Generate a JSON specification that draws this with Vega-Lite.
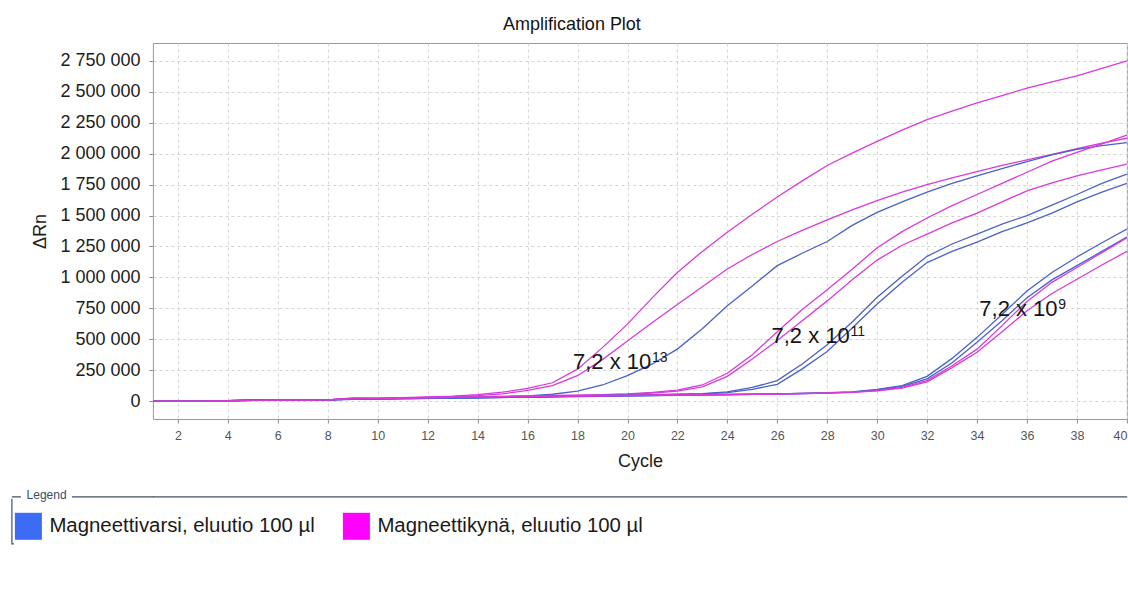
{
  "$schema": "https://vega.github.io/schema/vega-lite/v6.json",
  "background": "#ffffff",
  "padding": {"left": 9.9, "top": 15, "right": 0, "bottom": 0},
  "spacing": 23.5,
  "resolve": {"scale": {"color": "independent"}, "legend": {"color": "independent"}},
  "config": {
    "font": "Liberation Sans",
    "locale": {"number": {"decimal": ",", "thousands": " ", "grouping": [3], "currency": ["", " €"]}},
    "axis": {"labelOverlap": false}
  },
  "datasets": {
    "wells": [
      {"well": "A", "method": "Magneettikynä, eluutio 100 µl"},
      {"well": "B", "method": "Magneettikynä, eluutio 100 µl"},
      {"well": "C", "method": "Magneettivarsi, eluutio 100 µl"},
      {"well": "D", "method": "Magneettikynä, eluutio 100 µl"},
      {"well": "E", "method": "Magneettikynä, eluutio 100 µl"},
      {"well": "F", "method": "Magneettivarsi, eluutio 100 µl"},
      {"well": "G", "method": "Magneettivarsi, eluutio 100 µl"},
      {"well": "H", "method": "Magneettivarsi, eluutio 100 µl"},
      {"well": "I", "method": "Magneettivarsi, eluutio 100 µl"},
      {"well": "J", "method": "Magneettikynä, eluutio 100 µl"},
      {"well": "K", "method": "Magneettikynä, eluutio 100 µl"}
    ],
    "labels": [
      {"cycle": 17.82, "dRn": 259000, "base": "7,2 x 10", "exp": "13"},
      {"cycle": 25.77, "dRn": 473000, "base": "7,2 x 10", "exp": "11"},
      {"cycle": 34.09, "dRn": 688000, "base": "7,2 x 10", "exp": "9"}
    ],
    "curves": [
      {"well":"A","cycle":1,"dRn":0},{"well":"A","cycle":2,"dRn":0},{"well":"A","cycle":3,"dRn":0},{"well":"A","cycle":4,"dRn":2000},{"well":"A","cycle":5,"dRn":6000},{"well":"A","cycle":6,"dRn":8000},{"well":"A","cycle":7,"dRn":7000},{"well":"A","cycle":8,"dRn":9000},{"well":"A","cycle":9,"dRn":26000},{"well":"A","cycle":10,"dRn":24000},
      {"well":"A","cycle":11,"dRn":27000},{"well":"A","cycle":12,"dRn":33000},{"well":"A","cycle":13,"dRn":40000},{"well":"A","cycle":14,"dRn":52000},{"well":"A","cycle":15,"dRn":72000},{"well":"A","cycle":16,"dRn":102000},{"well":"A","cycle":17,"dRn":148000},{"well":"A","cycle":18,"dRn":258000},{"well":"A","cycle":19,"dRn":432000},{"well":"A","cycle":20,"dRn":622000},
      {"well":"A","cycle":21,"dRn":836000},{"well":"A","cycle":22,"dRn":1040000},{"well":"A","cycle":23,"dRn":1210000},{"well":"A","cycle":24,"dRn":1365000},{"well":"A","cycle":25,"dRn":1510000},{"well":"A","cycle":26,"dRn":1650000},{"well":"A","cycle":27,"dRn":1780000},{"well":"A","cycle":28,"dRn":1905000},{"well":"A","cycle":29,"dRn":2005000},{"well":"A","cycle":30,"dRn":2100000},
      {"well":"A","cycle":31,"dRn":2190000},{"well":"A","cycle":32,"dRn":2275000},{"well":"A","cycle":33,"dRn":2345000},{"well":"A","cycle":34,"dRn":2410000},{"well":"A","cycle":35,"dRn":2470000},{"well":"A","cycle":36,"dRn":2530000},{"well":"A","cycle":37,"dRn":2580000},{"well":"A","cycle":38,"dRn":2630000},{"well":"A","cycle":39,"dRn":2690000},{"well":"A","cycle":40,"dRn":2750000},

      {"well":"B","cycle":1,"dRn":0},{"well":"B","cycle":2,"dRn":0},{"well":"B","cycle":3,"dRn":0},{"well":"B","cycle":4,"dRn":2000},{"well":"B","cycle":5,"dRn":5000},{"well":"B","cycle":6,"dRn":8000},{"well":"B","cycle":7,"dRn":8000},{"well":"B","cycle":8,"dRn":10000},{"well":"B","cycle":9,"dRn":22000},{"well":"B","cycle":10,"dRn":22000},
      {"well":"B","cycle":11,"dRn":25000},{"well":"B","cycle":12,"dRn":30000},{"well":"B","cycle":13,"dRn":36000},{"well":"B","cycle":14,"dRn":44000},{"well":"B","cycle":15,"dRn":58000},{"well":"B","cycle":16,"dRn":86000},{"well":"B","cycle":17,"dRn":124000},{"well":"B","cycle":18,"dRn":205000},{"well":"B","cycle":19,"dRn":335000},{"well":"B","cycle":20,"dRn":485000},
      {"well":"B","cycle":21,"dRn":635000},{"well":"B","cycle":22,"dRn":780000},{"well":"B","cycle":23,"dRn":925000},{"well":"B","cycle":24,"dRn":1068000},{"well":"B","cycle":25,"dRn":1185000},{"well":"B","cycle":26,"dRn":1290000},{"well":"B","cycle":27,"dRn":1380000},{"well":"B","cycle":28,"dRn":1465000},{"well":"B","cycle":29,"dRn":1545000},{"well":"B","cycle":30,"dRn":1620000},
      {"well":"B","cycle":31,"dRn":1690000},{"well":"B","cycle":32,"dRn":1750000},{"well":"B","cycle":33,"dRn":1805000},{"well":"B","cycle":34,"dRn":1855000},{"well":"B","cycle":35,"dRn":1905000},{"well":"B","cycle":36,"dRn":1950000},{"well":"B","cycle":37,"dRn":1995000},{"well":"B","cycle":38,"dRn":2040000},{"well":"B","cycle":39,"dRn":2085000},{"well":"B","cycle":40,"dRn":2125000},

      {"well":"C","cycle":1,"dRn":0},{"well":"C","cycle":2,"dRn":0},{"well":"C","cycle":3,"dRn":0},{"well":"C","cycle":4,"dRn":4000},{"well":"C","cycle":5,"dRn":8000},{"well":"C","cycle":6,"dRn":9000},{"well":"C","cycle":7,"dRn":9000},{"well":"C","cycle":8,"dRn":10000},{"well":"C","cycle":9,"dRn":17000},{"well":"C","cycle":10,"dRn":19000},
      {"well":"C","cycle":11,"dRn":22000},{"well":"C","cycle":12,"dRn":25000},{"well":"C","cycle":13,"dRn":28000},{"well":"C","cycle":14,"dRn":32000},{"well":"C","cycle":15,"dRn":36000},{"well":"C","cycle":16,"dRn":42000},{"well":"C","cycle":17,"dRn":55000},{"well":"C","cycle":18,"dRn":80000},{"well":"C","cycle":19,"dRn":130000},{"well":"C","cycle":20,"dRn":205000},
      {"well":"C","cycle":21,"dRn":300000},{"well":"C","cycle":22,"dRn":420000},{"well":"C","cycle":23,"dRn":585000},{"well":"C","cycle":24,"dRn":770000},{"well":"C","cycle":25,"dRn":930000},{"well":"C","cycle":26,"dRn":1095000},{"well":"C","cycle":27,"dRn":1195000},{"well":"C","cycle":28,"dRn":1290000},{"well":"C","cycle":29,"dRn":1420000},{"well":"C","cycle":30,"dRn":1525000},
      {"well":"C","cycle":31,"dRn":1610000},{"well":"C","cycle":32,"dRn":1690000},{"well":"C","cycle":33,"dRn":1760000},{"well":"C","cycle":34,"dRn":1820000},{"well":"C","cycle":35,"dRn":1880000},{"well":"C","cycle":36,"dRn":1935000},{"well":"C","cycle":37,"dRn":1990000},{"well":"C","cycle":38,"dRn":2035000},{"well":"C","cycle":39,"dRn":2065000},{"well":"C","cycle":40,"dRn":2090000},

      {"well":"D","cycle":1,"dRn":0},{"well":"D","cycle":2,"dRn":0},{"well":"D","cycle":3,"dRn":0},{"well":"D","cycle":4,"dRn":2000},{"well":"D","cycle":5,"dRn":6000},{"well":"D","cycle":6,"dRn":8000},{"well":"D","cycle":7,"dRn":8000},{"well":"D","cycle":8,"dRn":10000},{"well":"D","cycle":9,"dRn":22000},{"well":"D","cycle":10,"dRn":22000},
      {"well":"D","cycle":11,"dRn":24000},{"well":"D","cycle":12,"dRn":29000},{"well":"D","cycle":13,"dRn":32000},{"well":"D","cycle":14,"dRn":35000},{"well":"D","cycle":15,"dRn":38000},{"well":"D","cycle":16,"dRn":42000},{"well":"D","cycle":17,"dRn":45000},{"well":"D","cycle":18,"dRn":48000},{"well":"D","cycle":19,"dRn":52000},{"well":"D","cycle":20,"dRn":58000},
      {"well":"D","cycle":21,"dRn":70000},{"well":"D","cycle":22,"dRn":88000},{"well":"D","cycle":23,"dRn":130000},{"well":"D","cycle":24,"dRn":225000},{"well":"D","cycle":25,"dRn":375000},{"well":"D","cycle":26,"dRn":560000},{"well":"D","cycle":27,"dRn":740000},{"well":"D","cycle":28,"dRn":900000},{"well":"D","cycle":29,"dRn":1065000},{"well":"D","cycle":30,"dRn":1240000},
      {"well":"D","cycle":31,"dRn":1370000},{"well":"D","cycle":32,"dRn":1480000},{"well":"D","cycle":33,"dRn":1580000},{"well":"D","cycle":34,"dRn":1670000},{"well":"D","cycle":35,"dRn":1760000},{"well":"D","cycle":36,"dRn":1850000},{"well":"D","cycle":37,"dRn":1940000},{"well":"D","cycle":38,"dRn":2010000},{"well":"D","cycle":39,"dRn":2080000},{"well":"D","cycle":40,"dRn":2150000},

      {"well":"E","cycle":1,"dRn":0},{"well":"E","cycle":2,"dRn":0},{"well":"E","cycle":3,"dRn":0},{"well":"E","cycle":4,"dRn":2000},{"well":"E","cycle":5,"dRn":5000},{"well":"E","cycle":6,"dRn":7000},{"well":"E","cycle":7,"dRn":8000},{"well":"E","cycle":8,"dRn":10000},{"well":"E","cycle":9,"dRn":20000},{"well":"E","cycle":10,"dRn":20000},
      {"well":"E","cycle":11,"dRn":22000},{"well":"E","cycle":12,"dRn":27000},{"well":"E","cycle":13,"dRn":30000},{"well":"E","cycle":14,"dRn":32000},{"well":"E","cycle":15,"dRn":35000},{"well":"E","cycle":16,"dRn":38000},{"well":"E","cycle":17,"dRn":42000},{"well":"E","cycle":18,"dRn":45000},{"well":"E","cycle":19,"dRn":50000},{"well":"E","cycle":20,"dRn":55000},
      {"well":"E","cycle":21,"dRn":65000},{"well":"E","cycle":22,"dRn":80000},{"well":"E","cycle":23,"dRn":115000},{"well":"E","cycle":24,"dRn":200000},{"well":"E","cycle":25,"dRn":340000},{"well":"E","cycle":26,"dRn":490000},{"well":"E","cycle":27,"dRn":650000},{"well":"E","cycle":28,"dRn":810000},{"well":"E","cycle":29,"dRn":980000},{"well":"E","cycle":30,"dRn":1140000},
      {"well":"E","cycle":31,"dRn":1260000},{"well":"E","cycle":32,"dRn":1350000},{"well":"E","cycle":33,"dRn":1440000},{"well":"E","cycle":34,"dRn":1520000},{"well":"E","cycle":35,"dRn":1610000},{"well":"E","cycle":36,"dRn":1700000},{"well":"E","cycle":37,"dRn":1765000},{"well":"E","cycle":38,"dRn":1820000},{"well":"E","cycle":39,"dRn":1870000},{"well":"E","cycle":40,"dRn":1915000},

      {"well":"F","cycle":1,"dRn":0},{"well":"F","cycle":2,"dRn":0},{"well":"F","cycle":3,"dRn":0},{"well":"F","cycle":4,"dRn":4000},{"well":"F","cycle":5,"dRn":9000},{"well":"F","cycle":6,"dRn":10000},{"well":"F","cycle":7,"dRn":10000},{"well":"F","cycle":8,"dRn":10000},{"well":"F","cycle":9,"dRn":15000},{"well":"F","cycle":10,"dRn":18000},
      {"well":"F","cycle":11,"dRn":20000},{"well":"F","cycle":12,"dRn":22000},{"well":"F","cycle":13,"dRn":25000},{"well":"F","cycle":14,"dRn":28000},{"well":"F","cycle":15,"dRn":32000},{"well":"F","cycle":16,"dRn":35000},{"well":"F","cycle":17,"dRn":38000},{"well":"F","cycle":18,"dRn":42000},{"well":"F","cycle":19,"dRn":45000},{"well":"F","cycle":20,"dRn":48000},
      {"well":"F","cycle":21,"dRn":52000},{"well":"F","cycle":22,"dRn":55000},{"well":"F","cycle":23,"dRn":60000},{"well":"F","cycle":24,"dRn":75000},{"well":"F","cycle":25,"dRn":110000},{"well":"F","cycle":26,"dRn":165000},{"well":"F","cycle":27,"dRn":300000},{"well":"F","cycle":28,"dRn":455000},{"well":"F","cycle":29,"dRn":640000},{"well":"F","cycle":30,"dRn":840000},
      {"well":"F","cycle":31,"dRn":1010000},{"well":"F","cycle":32,"dRn":1170000},{"well":"F","cycle":33,"dRn":1270000},{"well":"F","cycle":34,"dRn":1350000},{"well":"F","cycle":35,"dRn":1430000},{"well":"F","cycle":36,"dRn":1500000},{"well":"F","cycle":37,"dRn":1585000},{"well":"F","cycle":38,"dRn":1670000},{"well":"F","cycle":39,"dRn":1760000},{"well":"F","cycle":40,"dRn":1835000},

      {"well":"G","cycle":1,"dRn":0},{"well":"G","cycle":2,"dRn":0},{"well":"G","cycle":3,"dRn":0},{"well":"G","cycle":4,"dRn":4000},{"well":"G","cycle":5,"dRn":8000},{"well":"G","cycle":6,"dRn":9000},{"well":"G","cycle":7,"dRn":10000},{"well":"G","cycle":8,"dRn":10000},{"well":"G","cycle":9,"dRn":14000},{"well":"G","cycle":10,"dRn":17000},
      {"well":"G","cycle":11,"dRn":19000},{"well":"G","cycle":12,"dRn":21000},{"well":"G","cycle":13,"dRn":24000},{"well":"G","cycle":14,"dRn":27000},{"well":"G","cycle":15,"dRn":30000},{"well":"G","cycle":16,"dRn":33000},{"well":"G","cycle":17,"dRn":36000},{"well":"G","cycle":18,"dRn":40000},{"well":"G","cycle":19,"dRn":43000},{"well":"G","cycle":20,"dRn":46000},
      {"well":"G","cycle":21,"dRn":50000},{"well":"G","cycle":22,"dRn":53000},{"well":"G","cycle":23,"dRn":57000},{"well":"G","cycle":24,"dRn":68000},{"well":"G","cycle":25,"dRn":95000},{"well":"G","cycle":26,"dRn":135000},{"well":"G","cycle":27,"dRn":260000},{"well":"G","cycle":28,"dRn":400000},{"well":"G","cycle":29,"dRn":590000},{"well":"G","cycle":30,"dRn":785000},
      {"well":"G","cycle":31,"dRn":960000},{"well":"G","cycle":32,"dRn":1120000},{"well":"G","cycle":33,"dRn":1210000},{"well":"G","cycle":34,"dRn":1285000},{"well":"G","cycle":35,"dRn":1370000},{"well":"G","cycle":36,"dRn":1440000},{"well":"G","cycle":37,"dRn":1520000},{"well":"G","cycle":38,"dRn":1610000},{"well":"G","cycle":39,"dRn":1690000},{"well":"G","cycle":40,"dRn":1760000},

      {"well":"H","cycle":1,"dRn":0},{"well":"H","cycle":2,"dRn":0},{"well":"H","cycle":3,"dRn":0},{"well":"H","cycle":4,"dRn":4000},{"well":"H","cycle":5,"dRn":8000},{"well":"H","cycle":6,"dRn":9000},{"well":"H","cycle":7,"dRn":9000},{"well":"H","cycle":8,"dRn":10000},{"well":"H","cycle":9,"dRn":15000},{"well":"H","cycle":10,"dRn":18000},
      {"well":"H","cycle":11,"dRn":20000},{"well":"H","cycle":12,"dRn":22000},{"well":"H","cycle":13,"dRn":25000},{"well":"H","cycle":14,"dRn":28000},{"well":"H","cycle":15,"dRn":30000},{"well":"H","cycle":16,"dRn":32000},{"well":"H","cycle":17,"dRn":35000},{"well":"H","cycle":18,"dRn":38000},{"well":"H","cycle":19,"dRn":40000},{"well":"H","cycle":20,"dRn":42000},
      {"well":"H","cycle":21,"dRn":45000},{"well":"H","cycle":22,"dRn":48000},{"well":"H","cycle":23,"dRn":50000},{"well":"H","cycle":24,"dRn":52000},{"well":"H","cycle":25,"dRn":55000},{"well":"H","cycle":26,"dRn":58000},{"well":"H","cycle":27,"dRn":62000},{"well":"H","cycle":28,"dRn":68000},{"well":"H","cycle":29,"dRn":75000},{"well":"H","cycle":30,"dRn":95000},
      {"well":"H","cycle":31,"dRn":125000},{"well":"H","cycle":32,"dRn":200000},{"well":"H","cycle":33,"dRn":345000},{"well":"H","cycle":34,"dRn":515000},{"well":"H","cycle":35,"dRn":700000},{"well":"H","cycle":36,"dRn":890000},{"well":"H","cycle":37,"dRn":1040000},{"well":"H","cycle":38,"dRn":1165000},{"well":"H","cycle":39,"dRn":1280000},{"well":"H","cycle":40,"dRn":1390000},

      {"well":"I","cycle":1,"dRn":0},{"well":"I","cycle":2,"dRn":0},{"well":"I","cycle":3,"dRn":0},{"well":"I","cycle":4,"dRn":3000},{"well":"I","cycle":5,"dRn":8000},{"well":"I","cycle":6,"dRn":9000},{"well":"I","cycle":7,"dRn":9000},{"well":"I","cycle":8,"dRn":10000},{"well":"I","cycle":9,"dRn":14000},{"well":"I","cycle":10,"dRn":17000},
      {"well":"I","cycle":11,"dRn":19000},{"well":"I","cycle":12,"dRn":21000},{"well":"I","cycle":13,"dRn":24000},{"well":"I","cycle":14,"dRn":27000},{"well":"I","cycle":15,"dRn":29000},{"well":"I","cycle":16,"dRn":31000},{"well":"I","cycle":17,"dRn":34000},{"well":"I","cycle":18,"dRn":37000},{"well":"I","cycle":19,"dRn":39000},{"well":"I","cycle":20,"dRn":41000},
      {"well":"I","cycle":21,"dRn":44000},{"well":"I","cycle":22,"dRn":47000},{"well":"I","cycle":23,"dRn":49000},{"well":"I","cycle":24,"dRn":51000},{"well":"I","cycle":25,"dRn":54000},{"well":"I","cycle":26,"dRn":57000},{"well":"I","cycle":27,"dRn":61000},{"well":"I","cycle":28,"dRn":66000},{"well":"I","cycle":29,"dRn":72000},{"well":"I","cycle":30,"dRn":90000},
      {"well":"I","cycle":31,"dRn":118000},{"well":"I","cycle":32,"dRn":180000},{"well":"I","cycle":33,"dRn":310000},{"well":"I","cycle":34,"dRn":475000},{"well":"I","cycle":35,"dRn":650000},{"well":"I","cycle":36,"dRn":836000},{"well":"I","cycle":37,"dRn":980000},{"well":"I","cycle":38,"dRn":1095000},{"well":"I","cycle":39,"dRn":1210000},{"well":"I","cycle":40,"dRn":1325000},

      {"well":"J","cycle":1,"dRn":0},{"well":"J","cycle":2,"dRn":0},{"well":"J","cycle":3,"dRn":0},{"well":"J","cycle":4,"dRn":2000},{"well":"J","cycle":5,"dRn":6000},{"well":"J","cycle":6,"dRn":8000},{"well":"J","cycle":7,"dRn":7000},{"well":"J","cycle":8,"dRn":9000},{"well":"J","cycle":9,"dRn":22000},{"well":"J","cycle":10,"dRn":21000},
      {"well":"J","cycle":11,"dRn":23000},{"well":"J","cycle":12,"dRn":28000},{"well":"J","cycle":13,"dRn":31000},{"well":"J","cycle":14,"dRn":34000},{"well":"J","cycle":15,"dRn":36000},{"well":"J","cycle":16,"dRn":38000},{"well":"J","cycle":17,"dRn":40000},{"well":"J","cycle":18,"dRn":42000},{"well":"J","cycle":19,"dRn":44000},{"well":"J","cycle":20,"dRn":46000},
      {"well":"J","cycle":21,"dRn":48000},{"well":"J","cycle":22,"dRn":50000},{"well":"J","cycle":23,"dRn":52000},{"well":"J","cycle":24,"dRn":54000},{"well":"J","cycle":25,"dRn":56000},{"well":"J","cycle":26,"dRn":58000},{"well":"J","cycle":27,"dRn":61000},{"well":"J","cycle":28,"dRn":65000},{"well":"J","cycle":29,"dRn":72000},{"well":"J","cycle":30,"dRn":85000},
      {"well":"J","cycle":31,"dRn":110000},{"well":"J","cycle":32,"dRn":165000},{"well":"J","cycle":33,"dRn":285000},{"well":"J","cycle":34,"dRn":420000},{"well":"J","cycle":35,"dRn":610000},{"well":"J","cycle":36,"dRn":805000},{"well":"J","cycle":37,"dRn":960000},{"well":"J","cycle":38,"dRn":1080000},{"well":"J","cycle":39,"dRn":1200000},{"well":"J","cycle":40,"dRn":1320000},

      {"well":"K","cycle":1,"dRn":0},{"well":"K","cycle":2,"dRn":0},{"well":"K","cycle":3,"dRn":0},{"well":"K","cycle":4,"dRn":2000},{"well":"K","cycle":5,"dRn":5000},{"well":"K","cycle":6,"dRn":7000},{"well":"K","cycle":7,"dRn":7000},{"well":"K","cycle":8,"dRn":9000},{"well":"K","cycle":9,"dRn":20000},{"well":"K","cycle":10,"dRn":20000},
      {"well":"K","cycle":11,"dRn":22000},{"well":"K","cycle":12,"dRn":27000},{"well":"K","cycle":13,"dRn":30000},{"well":"K","cycle":14,"dRn":33000},{"well":"K","cycle":15,"dRn":35000},{"well":"K","cycle":16,"dRn":37000},{"well":"K","cycle":17,"dRn":39000},{"well":"K","cycle":18,"dRn":41000},{"well":"K","cycle":19,"dRn":43000},{"well":"K","cycle":20,"dRn":45000},
      {"well":"K","cycle":21,"dRn":47000},{"well":"K","cycle":22,"dRn":49000},{"well":"K","cycle":23,"dRn":51000},{"well":"K","cycle":24,"dRn":53000},{"well":"K","cycle":25,"dRn":55000},{"well":"K","cycle":26,"dRn":57000},{"well":"K","cycle":27,"dRn":60000},{"well":"K","cycle":28,"dRn":64000},{"well":"K","cycle":29,"dRn":70000},{"well":"K","cycle":30,"dRn":82000},
      {"well":"K","cycle":31,"dRn":105000},{"well":"K","cycle":32,"dRn":155000},{"well":"K","cycle":33,"dRn":270000},{"well":"K","cycle":34,"dRn":395000},{"well":"K","cycle":35,"dRn":560000},{"well":"K","cycle":36,"dRn":730000},{"well":"K","cycle":37,"dRn":870000},{"well":"K","cycle":38,"dRn":985000},{"well":"K","cycle":39,"dRn":1100000},{"well":"K","cycle":40,"dRn":1210000}
    ]
  },
  "vconcat": [
    {
      "width": 974,
      "height": 376,
      "title": {"text": "Amplification Plot", "fontSize": 18, "fontWeight": "normal", "color": "#141414", "anchor": "middle", "frame": "group", "dx": -68, "baseline": "bottom", "offset": -9},
      "view": {"stroke": "#9a9a9a", "strokeWidth": 1},
      "encoding": {
        "x": {
          "field": "cycle", "type": "quantitative",
          "scale": {"domain": [1, 40], "nice": false, "zero": false},
          "axis": {
            "title": "Cycle",
            "values": [2, 4, 6, 8, 10, 12, 14, 16, 18, 20, 22, 24, 26, 28, 30, 32, 34, 36, 38, 40],
            "grid": true, "gridColor": "#d4d4d4", "gridDash": [3, 3],
            "domain": false, "tickSize": 4, "tickColor": "#8c8c8c",
            "labelFontSize": 12.5, "labelColor": "#555555", "labelPadding": 7, "labelFlush": true, "labelOverlap": false,
            "titleFontSize": 18, "titleFontWeight": "normal", "titleColor": "#1c1c1c", "titlePadding": 10
          }
        },
        "y": {
          "field": "dRn", "type": "quantitative",
          "scale": {"domain": [-145000, 2895000], "nice": false, "zero": false},
          "axis": {
            "title": "ΔRn",
            "values": [0, 250000, 500000, 750000, 1000000, 1250000, 1500000, 1750000, 2000000, 2250000, 2500000, 2750000],
            "format": ",d",
            "labelOverlap": false, "labelSeparation": -40,
            "grid": true, "gridColor": "#d4d4d4", "gridDash": [3, 3],
            "domain": false, "tickSize": 4, "tickColor": "#8c8c8c",
            "labelFontSize": 18, "labelColor": "#1c1c1c", "labelPadding": 9,
            "titleFontSize": 18, "titleFontWeight": "normal", "titleColor": "#1c1c1c", "titlePadding": 10.5
          }
        }
      },
      "layer": [
        {
          "data": {"name": "curves"},
          "transform": [{"lookup": "well", "from": {"data": {"name": "wells"}, "key": "well", "fields": ["method"]}}],
          "mark": {"type": "line", "strokeWidth": 1.3, "clip": true},
          "encoding": {
            "color": {
              "field": "method", "type": "nominal",
              "scale": {"domain": ["Magneettivarsi, eluutio 100 µl", "Magneettikynä, eluutio 100 µl"], "range": ["#4a62c8", "#d93ad9"]},
              "legend": null
            },
            "detail": {"field": "well", "type": "nominal"}
          }
        },
        {
          "data": {"name": "labels"},
          "mark": {"type": "text", "align": "left", "baseline": "alphabetic", "fontSize": 22, "color": "#151515"},
          "encoding": {"text": {"field": "base"}}
        },
        {
          "data": {"name": "labels"},
          "mark": {"type": "text", "align": "left", "baseline": "alphabetic", "fontSize": 14, "dx": 79, "dy": -7, "color": "#151515"},
          "encoding": {"text": {"field": "exp"}}
        }
      ]
    },
    {
      "width": 974,
      "height": 97,
      "view": {"stroke": "#3f5366", "strokeWidth": 1.2, "strokeDash": [974, 1200]},
      "data": {"values": []},
      "mark": {"type": "point", "filled": true},
      "encoding": {
        "color": {
          "field": "method", "type": "nominal",
          "scale": {"domain": ["Magneettivarsi, eluutio 100 µl", "Magneettikynä, eluutio 100 µl"], "range": ["#3b6cf3", "#ff00ff"]},
          "legend": {
            "orient": "none", "legendX": -141.3, "legendY": 0, "direction": "horizontal",
            "title": "Legend", "titleFontSize": 12, "titleFontWeight": "normal", "titleColor": "#35506a", "titlePadding": 1,
            "symbolType": "square", "symbolSize": 729, "symbolStrokeWidth": 0, "symbolOpacity": 1,
            "labelFontSize": 20.4, "labelColor": "#1a1a1a", "labelOffset": 7.5, "labelLimit": 500,
            "columnPadding": 27, "padding": 3.3,
            "encode": {
              "legend": {"update": {
                "stroke": {"value": "#3f5366"},
                "strokeWidth": {"value": 1.2},
                "strokeDash": {"value": [9, 51, 82, 1173, 47]}
              }},
              "title": {"update": {"dx": {"value": 11.7}, "dy": {"value": -9.3}}}
            }
          }
        }
      }
    }
  ]
}
